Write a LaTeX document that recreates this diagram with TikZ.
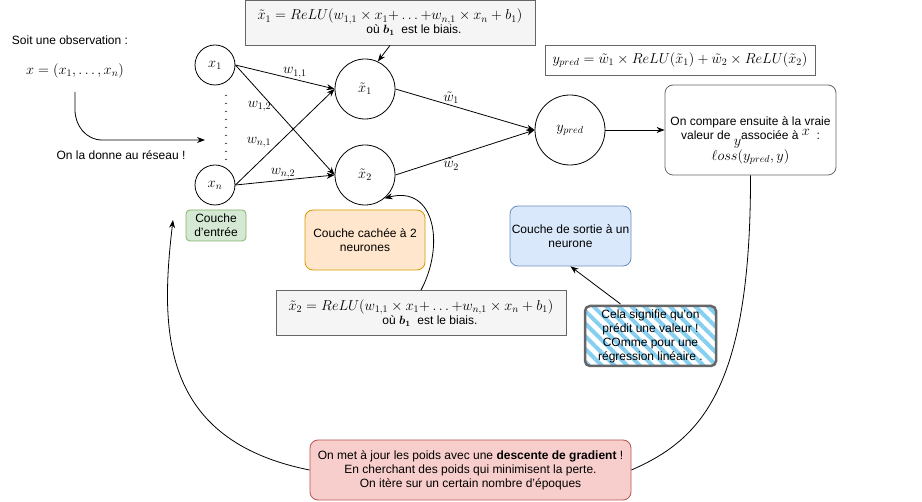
\documentclass[tikz,border=0pt]{standalone}
\usepackage{fontspec}
\setmainfont{Liberation Sans}
\usetikzlibrary{arrows.meta,patterns.meta}
\newcommand{\rl}      {ReLU}
\newcommand{\bb}      {{\boldmath$b_1$}}
\newcommand{\fm}[1]   {{\fontsize{14}{15}\selectfont$#1$}}
\definecolor{grayfill}{HTML}{F5F5F5}
\definecolor{graydraw}{HTML}{666666}
\definecolor{grnfill}{HTML}{D5E8D4}
\definecolor{grndraw}{HTML}{82B366}
\definecolor{orgfill}{HTML}{FFE6CC}
\definecolor{orgdraw}{HTML}{D79B00}
\definecolor{blufill}{HTML}{DAE8FC}
\definecolor{bludraw}{HTML}{6C8EBF}
\definecolor{redfill}{HTML}{F8CECC}
\definecolor{reddraw}{HTML}{B85450}
\definecolor{stripe}{HTML}{86CFF0}

\begin{document}
\begin{tikzpicture}[x=1pt,y=1pt,line width=0.8pt,>={Stealth[length=8pt,width=6pt]},
  every node/.style={font=\fontsize{12}{14}\selectfont},
  neur/.style={draw,circle,inner sep=0pt},
  lbl/.style={font=\fontsize{12}{14}\selectfont,inner sep=1pt},
  note/.style={draw,rounded corners=8pt,align=center,inner sep=0pt},
  formula/.style={draw=graydraw,align=center,inner sep=0pt}]
  \useasboundingbox (0,0) rectangle (922,-502);

  % observation
  \node (obs)  at (70,-40)  {Soit une observation :};
  \node (xvec) at (75,-71)  {\fm{x=(x_1,\ldots,x_n)}};
  \coordinate (feedstart) at (75,-92);
  \coordinate (feedtip)   at (205,-140);
  \draw[->] (feedstart) -- (75,-110) to[out=-90,in=180] (102,-140) -- (feedtip);
  \node (feedtxt) at (121,-155) {On la donne au réseau !};

  % neurones
  \node[neur,minimum size=40pt] (x1) at (215,-65)  {\fm{x_1}};
  \node[neur,minimum size=40pt] (xn) at (215,-185) {\fm{x_n}};
  \node[neur,minimum size=60pt] (h1) at (365,-89)  {\fm{\tilde{x}_1}};
  \node[neur,minimum size=60pt] (h2) at (365,-175) {\fm{\tilde{x}_2}};
  \node[neur,minimum size=70pt] (yp) at (570,-130) {\fm{y_{pred}}};
  \draw[line width=1.6pt,line cap=round,dash pattern=on 0pt off 8pt]
     ([xshift=11pt,yshift=-10pt]x1.south) -- ([xshift=11pt,yshift=5pt]xn.north);

  \draw[->] (x1.east) -- (h1.west) node[lbl,pos=0.6,anchor=south]        {\fm{w_{1,1}}};
  \draw[->] (x1.east) -- (h2.west) node[lbl,pos=0.375,anchor=east]       {\fm{w_{1,2}}};
  \draw[->] (xn.east) -- (h1.west) node[lbl,pos=0.375,anchor=south east] {\fm{w_{n,1}}};
  \draw[->] (xn.east) -- (h2.west) node[lbl,pos=0.48,anchor=south]       {\fm{w_{n,2}}};
  \draw[->] (h1.east) -- (yp.west) node[lbl,pos=0.4,anchor=south]        {\fm{\tilde{w}_1}};
  \draw[->] (h2.east) -- (yp.west) node[lbl,pos=0.4,anchor=north]        {\fm{\tilde{w}_2}};

  % formules
  \node[formula,fill=grayfill,minimum width=290pt,minimum height=45pt] (f1) at (390,-22.5)
     {\fm{\tilde{x}_1 = \rl(w_{1,1}\times x_1{+}\ldots{+}w_{n,1}\times x_n+b_1)}\\
      \hspace*{48pt}où \bb\ \ est le biais.};
  \draw[->] (f1.south) -- (h1.65);
  \node[formula,fill=grayfill,minimum width=290pt,minimum height=45pt] (f2) at (421,-313)
     {\fm{\tilde{x}_2 = \rl(w_{1,1}\times x_1{+}\ldots{+}w_{n,1}\times x_n+b_1)}\\
      \hspace*{18pt}où \bb\ \ est le biais.};
  \draw[->] (f2.north) .. controls (445,-245) and (435,-185) .. (h2.-50);
  \node[formula,minimum width=270pt,minimum height=30pt] (fy) at (680,-60)
     {\fm{y_{pred} = \tilde{w}_1\times\rl(\tilde{x}_1)+\tilde{w}_2\times\rl(\tilde{x}_2)}};

  % comparaison
  \node[note,draw=graydraw,minimum width=171pt,minimum height=90pt] (cmp) at (750.5,-130)
     {\rule{0pt}{30pt}On compare ensuite à la vraie\\
      valeur de \raisebox{-6pt}{\fm{y}}associée à \raisebox{4pt}{\fm{x}}\ \ :\\
      \fm{\ell oss(y_{pred},y)}};
  \draw[->] (yp.east) -- (cmp.west);

  % couches
  \node[note,fill=grnfill,draw=grndraw,rounded corners=4pt,minimum width=60pt,minimum height=31pt]
     (inlay) at (216,-225.5) {Couche\\ d'entrée};
  \node[note,fill=orgfill,draw=orgdraw,minimum width=120pt,minimum height=60pt]
     (hidlay) at (365,-240) {Couche cachée à 2\\ neurones};
  \node[note,fill=blufill,draw=bludraw,minimum width=121pt,minimum height=60pt]
     (outlay) at (570.5,-236) {Couche de sortie à un\\ neurone};

  % remarque
  \node[note,draw=graydraw,line width=2.5pt,rounded corners=5pt,
        pattern={Lines[angle=-45,distance=9pt,line width=4pt]},pattern color=stripe,
        minimum width=131pt,minimum height=60pt] (rmk) at (650.5,-336)
     {Cela signifie qu'on\\ prédit une valeur !\\ COmme pour une\\ régression linéaire .};
  \draw[->] ([xshift=-30pt]rmk.north) -- (outlay.south);

  % retour
  \node[note,fill=redfill,draw=reddraw,minimum width=321pt,minimum height=60pt] (upd) at (470.5,-470)
     {On met à jour les poids avec une \textbf{descente de gradient} !\\
      En cherchant des poids qui minimisent la perte.\\
      On itère sur un certain nombre d'époques};
  \coordinate (backtip) at (173,-220);
  \draw (cmp.south) .. controls (751,-390) and (700,-440) .. (upd.east);
  \draw[->] (upd.west) .. controls (160,-440) and (160,-330) .. (backtip);
\end{tikzpicture}
\end{document}
